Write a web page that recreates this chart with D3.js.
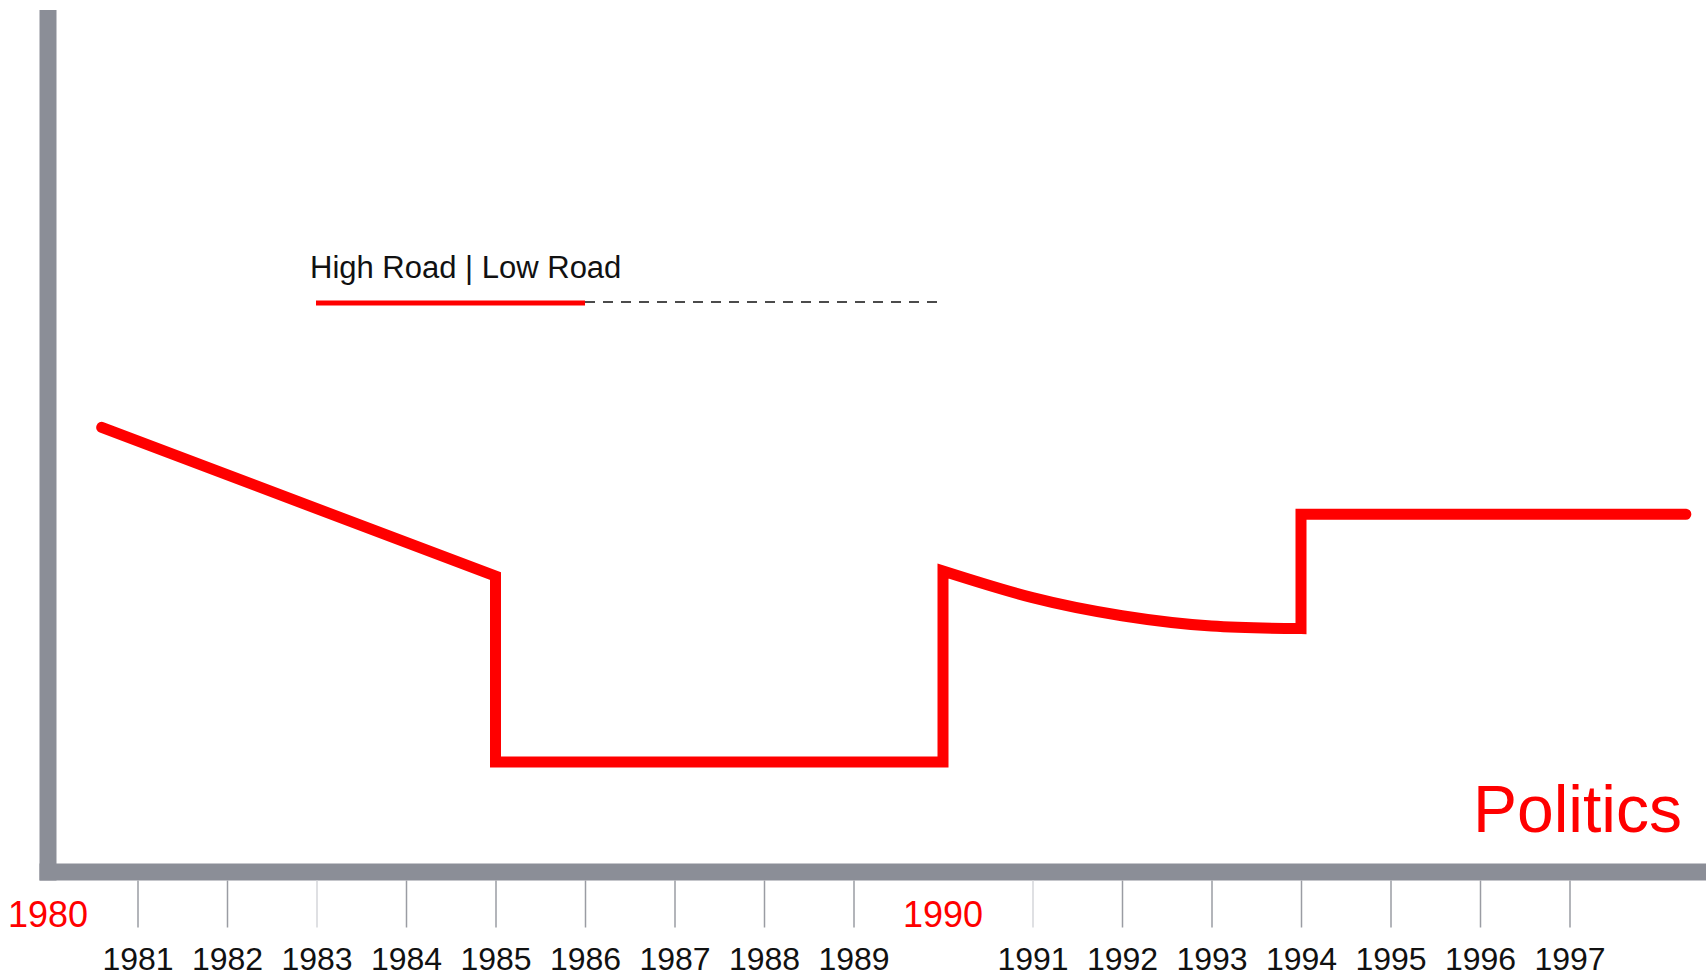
<!DOCTYPE html>
<html>
<head>
<meta charset="utf-8">
<script src="https://cdn.jsdelivr.net/npm/d3@7"></script>
<style>
  body { margin: 0; background: #fff; }
  svg { display: block; font-family: "Liberation Sans", Arial, sans-serif; }
</style>
</head>
<body>
<div class="chart"></div>
<script>
// years shown under the axis (1980 and 1990 get their own red labels)
var tickYears = [1981, 1982, 1983, 1984, 1985, 1986, 1987, 1988, 1989,
                 1991, 1992, 1993, 1994, 1995, 1996, 1997];
var faintTicks = [1983, 1991];
var markerYears = [1980, 1990];

// the road, year -> height
var roadYears  = [1980.6, 1985, 1985, 1990, 1990, 1991, 1992, 1993, 1994, 1994, 1998.3];
var roadValues = [51.7,   34.4, 12.8, 12.8, 35.0, 31.9, 29.8, 28.6, 28.3, 41.6, 41.6];
var smoothSpan = [4, 8]; // 1990 -> 1994 bends, the rest is straight

var legendText = "High Road | Low Road";
var title = "Politics";

var w = 1706,
    h = 978;

var vis = d3.select(".chart").append("svg")
    .attr("width", w)
    .attr("height", h);

var x = d3.scaleLinear().domain([1980, 1998.5]).range([48, 48 + 18.5 * 89.5]);
var y = d3.scaleLinear().domain([0, 100]).range([872, 12]);

var grey = "#8b8e97";

// axis bars
vis.append("line")
    .attr("x1", x(1980)).attr("x2", x(1980))
    .attr("y1", 10).attr("y2", y(0) + 8.5)
    .attr("stroke", grey).attr("stroke-width", 17);
vis.append("line")
    .attr("x1", x(1980) - 8.5).attr("x2", w)
    .attr("y1", y(0)).attr("y2", y(0))
    .attr("stroke", grey).attr("stroke-width", 17);

var axis = d3.axisBottom(x)
    .tickValues(tickYears)
    .tickSize(47)
    .tickSizeOuter(0)
    .tickFormat(d3.format("d"));

var gx = vis.append("g")
    .attr("transform", "translate(0," + (y(0) + 8.5) + ")")
    .call(axis);
gx.select(".domain").remove();
gx.selectAll(".tick line")
    .attr("stroke", function(d) { return faintTicks.indexOf(d) >= 0 ? "#d4d6da" : "#9a9ca3"; })
    .attr("stroke-width", 1.5);
gx.selectAll(".tick text")
    .attr("dy", null)
    .attr("y", 89)
    .attr("fill", "#111")
    .style("font-size", "32px")
    .style("font-family", "'Liberation Sans', Arial, sans-serif");

vis.selectAll("text.marker").data(markerYears).enter().append("text")
    .attr("class", "marker")
    .attr("x", function(d) { return x(d); })
    .attr("y", 927)
    .attr("text-anchor", "middle")
    .attr("fill", "#ff0000")
    .style("font-size", "36px")
    .text(function(d) { return d; });

// road line, built in pieces so only the 1990-94 stretch is curved
var pts = roadYears.map(function(yr, i) { return [yr, roadValues[i]]; });
var line = d3.line()
    .x(function(d) { return x(d[0]); })
    .y(function(d) { return y(d[1]); });
var a = line.curve(d3.curveLinear)(pts.slice(0, smoothSpan[0] + 1));
var b = line.curve(d3.curveNatural)(pts.slice(smoothSpan[0], smoothSpan[1] + 1));
var c = line.curve(d3.curveLinear)(pts.slice(smoothSpan[1]));
var strip = function(s) { return s.replace(/^M[^A-Z]*/, ""); };

vis.append("path")
    .attr("d", a + strip(b) + strip(c))
    .attr("fill", "none")
    .attr("stroke", "#ff0000")
    .attr("stroke-width", 11)
    .attr("stroke-linejoin", "miter")
    .attr("stroke-miterlimit", 10)
    .attr("stroke-linecap", "round");

// legend
vis.append("text")
    .attr("x", 310).attr("y", 278)
    .attr("fill", "#111")
    .style("font-size", "31px")
    .text(legendText);
vis.append("line")
    .attr("x1", 316).attr("x2", 585)
    .attr("y1", 303).attr("y2", 303)
    .attr("stroke", "#ff0000").attr("stroke-width", 5);
vis.append("line")
    .attr("x1", 585).attr("x2", 941)
    .attr("y1", 302).attr("y2", 302)
    .attr("stroke", "#111").attr("stroke-width", 1.5)
    .attr("stroke-dasharray", "10,8");

vis.append("text")
    .attr("x", 1682).attr("y", 832)
    .attr("text-anchor", "end")
    .attr("fill", "#ff0000")
    .style("font-size", "66px")
    .text(title);
</script>
</body>
</html>
